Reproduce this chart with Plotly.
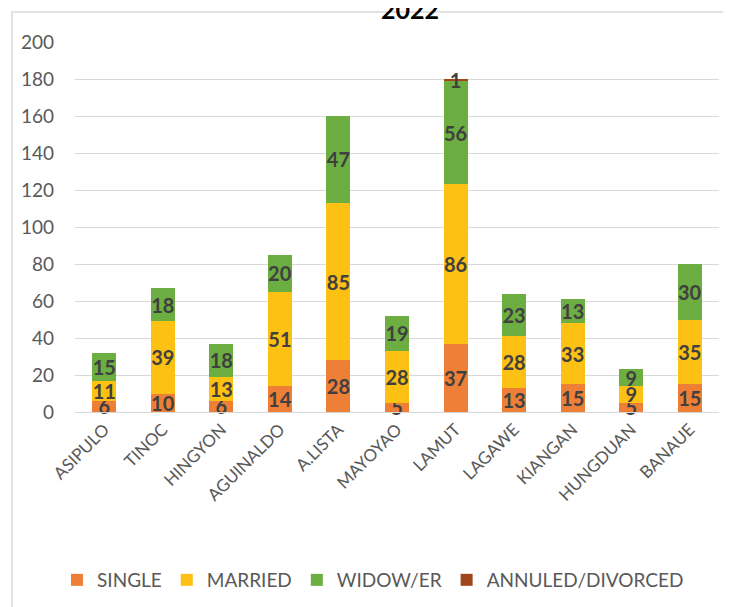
import plotly.graph_objects as go

categories = ["ASIPULO", "TINOC", "HINGYON", "AGUINALDO", "A.LISTA", "MAYOYAO",
              "LAMUT", "LAGAWE", "KIANGAN", "HUNGDUAN", "BANAUE"]
single = [6, 10, 6, 14, 28, 5, 37, 13, 15, 5, 15]
married = [11, 39, 13, 51, 85, 28, 86, 28, 33, 9, 35]
widow = [15, 18, 18, 20, 47, 19, 56, 23, 13, 9, 30]
annulled = [0, 0, 0, 0, 0, 0, 1, 0, 0, 0, 0]

series = [
    ("SINGLE", single, "#EE7F36"),
    ("MARRIED", married, "#FDC113"),
    ("WIDOW/ER", widow, "#6CAE42"),
    ("ANNULED/DIVORCED", annulled, "#A1461A"),
]

FONT = "Lato, Noto Sans, sans-serif"

fig = go.Figure()
for name, vals, color in series:
    fig.add_trace(go.Bar(
        name=name, x=categories, y=vals,
        marker=dict(color=color, line=dict(width=0)),
        text=[str(v) if v else "" for v in vals],
        textposition="inside", insidetextanchor="middle",
        constraintext="none", cliponaxis=False,
        textfont=dict(family=FONT, size=20, color="#404040", weight="bold"),
        textangle=0,
    ))

OFF = 8  # page offset of the figure
W, H = 731, 607
# reference pixel positions of plot area
REF_L, REF_R, REF_T, REF_B = 75, 719, 42, 412
L, T = REF_L - OFF, REF_T - OFF
R = W - (REF_R - OFF)
B = H - (REF_B - OFF)
pw, ph = W - L - R, H - T - B


def px_x(x):
    return (x - OFF - L) / pw


def px_y(y):
    return ((H - B) - (y - OFF)) / ph


fig.update_layout(
    width=W, height=H,
    barmode="stack", bargap=0.59,
    margin=dict(l=L, r=R, t=T, b=B, autoexpand=False),
    paper_bgcolor="white", plot_bgcolor="white",
    font=dict(family=FONT, color="#595959"),
    showlegend=True,
    legend=dict(orientation="h", x=px_x(373), xanchor="center", y=px_y(580), yanchor="middle",
                font=dict(family=FONT, size=19, color="#595959"), traceorder="normal",
                itemwidth=30, bgcolor="rgba(0,0,0,0)"),
    xaxis=dict(tickangle=-45, tickfont=dict(family=FONT, size=17, color="#595959"),
               showgrid=False, showline=True, linecolor="#D9D9D9", linewidth=1,
               ticks=""),
    yaxis=dict(range=[0, 200], dtick=20, tickfont=dict(family=FONT, size=19, color="#595959"),
               showgrid=True, gridcolor="#D9D9D9", gridwidth=1, zeroline=False,
               showline=False, ticks="", ticklabelstandoff=20),
    annotations=[dict(text="<b>2022</b>", xref="paper", yref="paper",
                      x=px_x(410), y=px_y(26), xanchor="center", yanchor="bottom",
                      showarrow=False, font=dict(family=FONT, size=25, color="#000000"))],
    shapes=[dict(type="rect", xref="paper", yref="paper",
                 x0=px_x(12), x1=px_x(725), y0=px_y(660), y1=px_y(12),
                 line=dict(color="#D9D9D9", width=1.5), fillcolor="rgba(0,0,0,0)",
                 layer="below")],
)

fig.write_html("out.html")
